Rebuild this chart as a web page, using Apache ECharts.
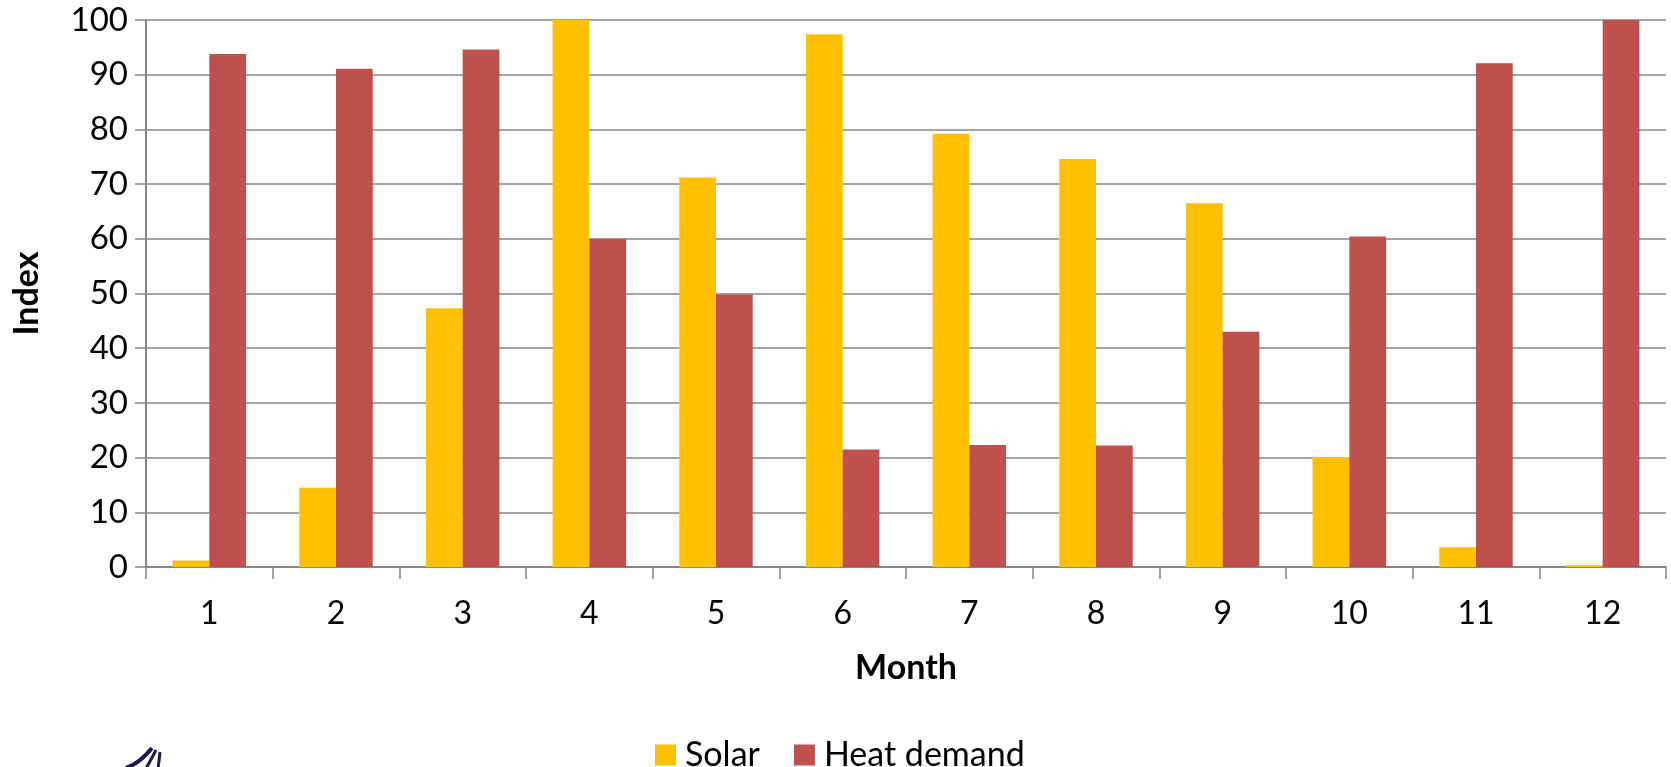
<!DOCTYPE html>
<html>
<head>
<meta charset="utf-8">
<script src="https://cdn.jsdelivr.net/npm/echarts@6/dist/echarts.min.js"></script>
<style>
html,body{margin:0;padding:0;background:#fff;}
#chart{width:1671px;height:767px;}
</style>
</head>
<body>
<div id="chart"></div>
<script>
const months = ['1','2','3','4','5','6','7','8','9','10','11','12'];
const solar = [1.2, 14.5, 47.3, 100, 71.2, 97.4, 79.2, 74.6, 66.5, 20.1, 3.6, 0.3];
const heatDemand = [93.8, 91.1, 94.6, 60.0, 49.8, 21.5, 22.3, 22.2, 43.0, 60.4, 92.1, 100];
const yTicks = [0, 10, 20, 30, 40, 50, 60, 70, 80, 90, 100];

const FONT = 'Lato';
const chart = echarts.init(document.getElementById('chart'), null, {renderer: 'canvas'});
chart.setOption({
  animation: false,
  backgroundColor: '#ffffff',
  textStyle: {fontFamily: FONT, color: '#000'},
  grid: {left: 146, right: 5, top: 20, bottom: 200, containLabel: false},
  legend: {
    data: ['Solar', 'Heat demand'],
    left: 650, top: 733,
    itemWidth: 21, itemHeight: 21, itemGap: 34,
    icon: 'rect',
    textStyle: {fontFamily: FONT, fontSize: 34, color: '#000', padding: [0,0,0,4]}
  },
  xAxis: {
    type: 'category',
    data: months,
    name: 'Month',
    nameLocation: 'middle',
    nameGap: 84,
    nameTextStyle: {fontFamily: FONT, fontSize: 34, fontWeight: 'bold', color: '#000'},
    axisLine: {lineStyle: {color: '#868686', width: 2}},
    axisTick: {show: true, length: 12, lineStyle: {color: '#868686', width: 1.5}},
    axisLabel: {fontFamily: FONT, fontSize: 32, color: '#000', margin: 31},
    splitLine: {show: false}
  },
  yAxis: {
    type: 'value',
    min: yTicks[0], max: yTicks[yTicks.length-1], interval: 10,
    name: 'Index',
    nameLocation: 'middle',
    nameGap: 102,
    nameTextStyle: {fontFamily: FONT, fontSize: 34, fontWeight: 'bold', color: '#000'},
    axisLine: {show: true, lineStyle: {color: '#868686', width: 2}},
    axisTick: {show: true, length: 11, lineStyle: {color: '#868686', width: 1.5}},
    axisLabel: {fontFamily: FONT, fontSize: 33, color: '#000', margin: 18},
    splitLine: {show: true, lineStyle: {color: '#868686', width: 1.5}}
  },
  series: [
    {name: 'Solar', type: 'bar', data: solar, barGap: '0%', barCategoryGap: '42%',
     itemStyle: {color: '#FFC000'}},
    {name: 'Heat demand', type: 'bar', data: heatDemand, barGap: '0%', barCategoryGap: '42%',
     itemStyle: {color: '#C0504D'}}
  ],
  graphic: [
    {type: 'bezierCurve', shape: {x1: 126, y1: 768, cpx1: 140, cpy1: 763, x2: 152, y2: 748}, style: {stroke: '#1f1a4f', lineWidth: 4, fill: null}},
    {type: 'bezierCurve', shape: {x1: 146, y1: 768, cpx1: 150, cpy1: 762, x2: 156, y2: 750}, style: {stroke: '#1f1a4f', lineWidth: 3, fill: null}},
    {type: 'bezierCurve', shape: {x1: 158, y1: 768, cpx1: 159, cpy1: 762, x2: 160, y2: 752}, style: {stroke: '#1f1a4f', lineWidth: 3, fill: null}}
  ]
});
</script>
</body>
</html>
